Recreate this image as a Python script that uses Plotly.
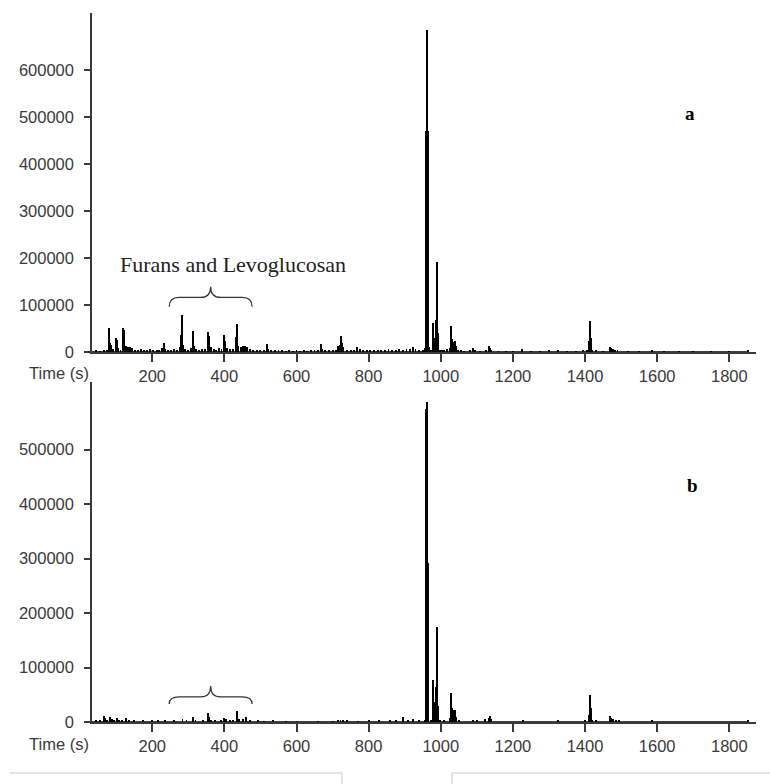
import plotly.graph_objects as go

# ---------------- data ----------------
time_a = [45, 55, 65, 75, 81, 83, 86, 92, 100, 103, 106, 112, 118, 120, 122, 126, 132, 138, 145, 152,
          160, 170, 178, 186, 195, 203, 212, 220, 228, 233, 236, 245, 252, 260, 268, 276, 280, 282, 285, 292,
          300, 308, 314, 317, 322, 330, 338, 346, 354, 358, 362, 370, 378, 386, 392, 399, 403, 408, 415, 423,
          431, 434, 438, 445, 452, 458, 464, 472, 480, 490, 500, 510, 517, 522, 530, 540, 550, 560, 570, 580,
          590, 600, 610, 620, 630, 640, 650, 660, 668, 672, 680, 690, 700, 710, 715, 720, 723, 725, 730, 740,
          750, 760, 769, 775, 785, 795, 805, 815, 825, 835, 845, 855, 865, 875, 885, 895, 905, 915, 924, 930,
          940, 950, 955, 960, 962, 964, 966, 968, 972, 978, 980, 984, 986, 989, 991, 993, 997, 1003, 1010, 1018,
          1025, 1027, 1029, 1031, 1034, 1037, 1040, 1043, 1048, 1055, 1065, 1080, 1090, 1095, 1110, 1125, 1134, 1137, 1140, 1160,
          1180, 1200, 1226, 1250, 1275, 1300, 1325, 1350, 1375, 1395, 1405, 1411, 1413, 1416, 1420, 1431, 1450, 1469, 1472, 1478,
          1484, 1490, 1520, 1550, 1586, 1620, 1660, 1700, 1750, 1800, 1851]
signal_a = [3000, 2000, 3000, 4000, 52000, 20000, 15000, 6000, 29000, 25000, 8000, 5000, 52000, 40000, 47000, 12000, 10000, 11000, 9000, 5000,
            4000, 6000, 5000, 4000, 6000, 5000, 4000, 3000, 8000, 20000, 7000, 5000, 4000, 6000, 5000, 10000, 36000, 79000, 14000, 6000,
            5000, 8000, 45000, 12000, 6000, 5000, 7000, 6000, 43000, 34000, 10000, 6000, 5000, 8000, 6000, 36000, 24000, 9000, 6000, 7000,
            31000, 60000, 12000, 10000, 12000, 12000, 10000, 6000, 5000, 4000, 5000, 4000, 16000, 7000, 4000, 3000, 4000, 3000, 2000, 3000,
            2000, 3000, 2000, 3000, 2000, 4000, 3000, 5000, 16000, 6000, 3000, 4000, 3000, 5000, 12000, 15000, 34000, 20000, 10000, 5000,
            4000, 5000, 11000, 6000, 4000, 5000, 3000, 4000, 3000, 5000, 4000, 6000, 4000, 5000, 6000, 5000, 6000, 7000, 11000, 6000,
            3000, 4000, 8000, 470000, 685000, 470000, 232000, 10000, 5000, 62000, 30000, 8000, 68000, 192000, 96000, 40000, 5000, 3000, 4000, 6000,
            8000, 30000, 55000, 28000, 22000, 18000, 24000, 12000, 4000, 3000, 2000, 3000, 9000, 5000, 2000, 4000, 13000, 8000, 4000, 2000,
            2000, 2000, 6000, 2000, 2000, 4000, 5000, 2000, 2000, 4000, 5000, 24000, 65000, 30000, 5000, 4000, 2000, 10000, 8000, 6000,
            5000, 5000, 2000, 2000, 3000, 1500, 1500, 1500, 1500, 1500, 4000]

time_b = [45, 55, 65, 69, 75, 83, 88, 95, 102, 108, 115, 128, 135, 150, 175, 200, 215, 235, 260, 284,
          295, 314, 320, 340, 354, 358, 362, 375, 390, 399, 404, 415, 425, 435, 440, 452, 459, 470, 494, 510,
          536, 570, 600, 660, 700, 715, 722, 730, 740, 770, 802, 830, 860, 875, 895, 910, 923, 940, 955, 960,
          962, 964, 966, 972, 978, 980, 984, 986, 989, 991, 993, 997, 1010, 1025, 1027, 1029, 1031, 1034, 1037, 1040,
          1043, 1050, 1090, 1100, 1123, 1134, 1137, 1140, 1228, 1325, 1400, 1411, 1413, 1416, 1420, 1431, 1469, 1472, 1478, 1485,
          1494, 1586, 1851]
signal_b = [3000, 2000, 11000, 7000, 4000, 10000, 5000, 4000, 7000, 3000, 4000, 7000, 3000, 2000, 2000, 2000, 2000, 2000, 2000, 6000,
            2000, 9000, 3000, 3000, 16000, 10000, 4000, 3000, 2000, 8000, 5000, 3000, 2000, 20000, 5000, 5000, 9000, 2000, 3000, 1500,
            2000, 1500, 1500, 1500, 1500, 3000, 4000, 3500, 2500, 1500, 3000, 2000, 3000, 3000, 9000, 3000, 5000, 2000, 4000, 575000,
            588000, 292000, 20000, 4000, 77000, 37000, 6000, 65000, 175000, 86000, 30000, 4000, 2000, 8000, 31000, 53000, 25000, 20000, 22000, 22000,
            10000, 2000, 4000, 2000, 5000, 8000, 11000, 5000, 3000, 3000, 3000, 13000, 50000, 25000, 3000, 2000, 11000, 8000, 5000, 4000,
            4000, 2000, 3000]

x_ticks = [200, 400, 600, 800, 1000, 1200, 1400, 1600, 1800]
y_ticks_a = [0, 100000, 200000, 300000, 400000, 500000, 600000]
y_ticks_b = [0, 100000, 200000, 300000, 400000, 500000]

x_range = [33, 1874]
y_range_a = [0, 721000]
y_range_b = [0, 624000]

# brace over the furans / levoglucosan region: start, end, end-height, arm-height, tip-height
brace_start, brace_end = 247, 477
brace_a = (96000, 116000, 139000)
brace_b = (33000, 46000, 66000)

label_text = "Furans and Levoglucosan"

# ---------------- figure ----------------
tick_font = dict(family="Liberation Sans, Arial, sans-serif", size=16.5, color="#3a3a3a")
axis_col = "#3a3a3a"

fig = go.Figure()
fig.add_trace(go.Bar(x=time_a, y=signal_a, width=2.6, marker=dict(color="black", line_width=0),
                     xaxis="x", yaxis="y"))
fig.add_trace(go.Bar(x=time_b, y=signal_b, width=2.6, marker=dict(color="black", line_width=0),
                     xaxis="x2", yaxis="y2"))
fig.add_trace(go.Scatter(x=[time_a[0] - 12, time_a[-1]], y=[0, 0], mode="lines",
                         line=dict(color="black", width=1.5), xaxis="x", yaxis="y", hoverinfo="skip"))
fig.add_trace(go.Scatter(x=[time_b[0] - 12, time_b[-1]], y=[0, 0], mode="lines",
                         line=dict(color="black", width=1.5), xaxis="x2", yaxis="y2", hoverinfo="skip"))


def xax(anchor):
    return dict(anchor=anchor, domain=[0, 1], range=x_range, showline=True, linecolor=axis_col,
                linewidth=1.5, ticks="outside", ticklen=8, tickwidth=1.5, tickcolor=axis_col,
                tickvals=x_ticks, showgrid=False, zeroline=False, tickfont=tick_font)


def yax(anchor, dom, rng, tv):
    return dict(anchor=anchor, domain=dom, range=rng, showline=True, linecolor=axis_col,
                linewidth=1.5, ticks="outside", ticklen=6, tickwidth=1.5, tickcolor=axis_col,
                tickvals=tv, tickformat="d", showgrid=False, zeroline=False, tickfont=tick_font,
                ticklabelstandoff=7)


H = 709.0
def py(p):  # pixel row -> paper y
    return (722 - p) / H
def px(p):  # pixel column -> paper x
    return (p - 92) / 664.0


def brace_path(x0, x1, ylow, ymid, ytip):
    xc = (x0 + x1) / 2.0
    dx = (x1 - x0) * 0.12
    return (f"M {x0},{ylow} Q {x0},{ymid} {x0 + dx},{ymid} L {xc - dx},{ymid} "
            f"Q {xc},{ymid} {xc},{ytip} Q {xc},{ymid} {xc + dx},{ymid} "
            f"L {x1 - dx},{ymid} Q {x1},{ymid} {x1},{ylow}")


shapes = [
    dict(type="path", xref="x", yref="y", path=brace_path(brace_start, brace_end, *brace_a),
         line=dict(color="#333", width=1.2)),
    dict(type="path", xref="x2", yref="y2", path=brace_path(brace_start, brace_end, *brace_b),
         line=dict(color="#333", width=1.2)),
    # light page frames at the bottom of the picture
    dict(type="line", xref="paper", yref="paper", x0=px(10), x1=px(342), y0=py(773), y1=py(773),
         line=dict(color="#c8c8c8", width=1)),
    dict(type="line", xref="paper", yref="paper", x0=px(342), x1=px(342), y0=py(773), y1=py(790),
         line=dict(color="#c8c8c8", width=1)),
    dict(type="line", xref="paper", yref="paper", x0=px(452), x1=px(775), y0=py(773), y1=py(773),
         line=dict(color="#c8c8c8", width=1)),
    dict(type="line", xref="paper", yref="paper", x0=px(452), x1=px(452), y0=py(773), y1=py(790),
         line=dict(color="#c8c8c8", width=1)),
]

annotations = [
    dict(text="Time (s)", xref="paper", yref="paper", x=px(91), y=py(373), xanchor="right",
         yanchor="middle", showarrow=False, font=tick_font),
    dict(text="Time (s)", xref="paper", yref="paper", x=px(91), y=py(744), xanchor="right",
         yanchor="middle", showarrow=False, font=tick_font),
    dict(text=label_text, xref="paper", yref="paper", x=px(233), y=py(264), xanchor="center",
         yanchor="middle", showarrow=False,
         font=dict(family="Liberation Serif, Times New Roman, serif", size=22, color="#222")),
    dict(text="<b>a</b>", xref="paper", yref="paper", x=px(690), y=py(113), xanchor="center",
         yanchor="middle", showarrow=False,
         font=dict(family="Liberation Serif, serif", size=19, color="black")),
    dict(text="<b>b</b>", xref="paper", yref="paper", x=px(692), y=py(485), xanchor="center",
         yanchor="middle", showarrow=False,
         font=dict(family="Liberation Serif, serif", size=19, color="black")),
]

fig.update_layout(
    width=770, height=784,
    margin=dict(l=92, r=14, t=13, b=62),
    paper_bgcolor="white", plot_bgcolor="white",
    showlegend=False,
    bargap=0,
    xaxis=xax("y"),
    yaxis=yax("x", [py(352), 1], y_range_a, y_ticks_a),
    xaxis2=xax("y2"),
    yaxis2=yax("x2", [0, py(382)], y_range_b, y_ticks_b),
    shapes=shapes,
    annotations=annotations,
)

fig.write_html("out.html")
